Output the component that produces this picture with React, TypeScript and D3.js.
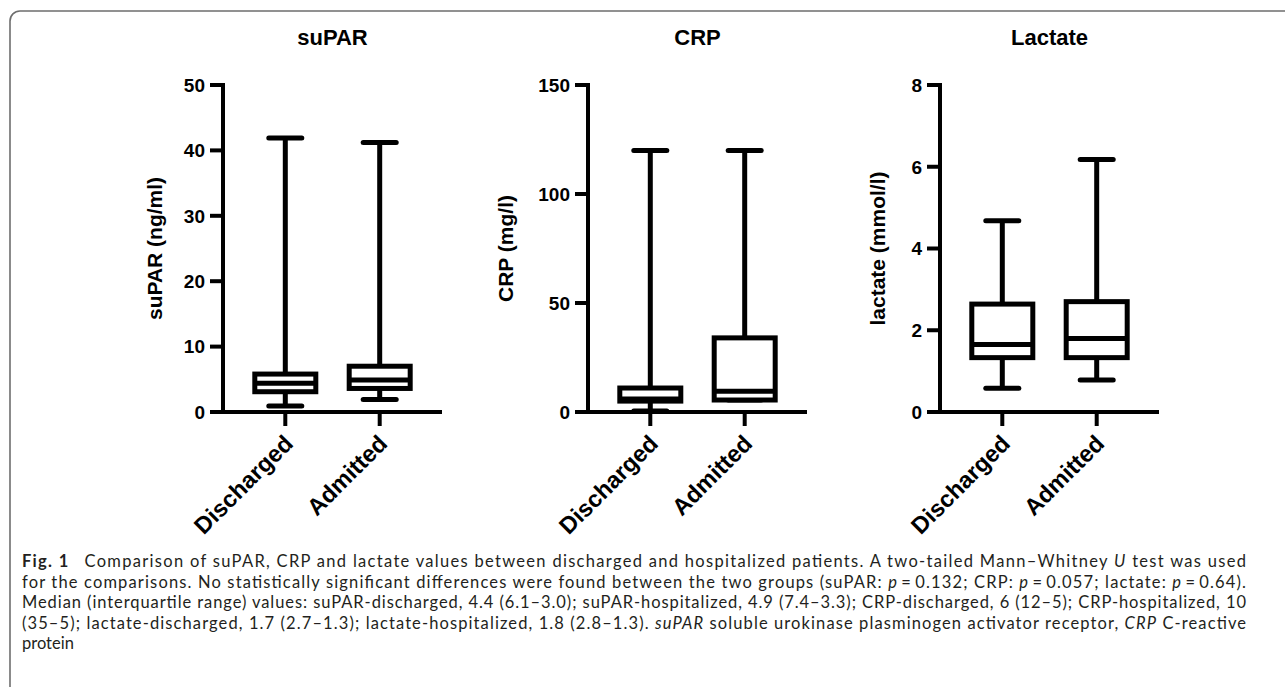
import React from 'react';
import * as d3 from 'd3';

// categories on every panel
const groups = ['Discharged', 'Admitted'];

// box stats per group: [min, q1, median, q3, max]
const suparStats = [[0.9, 3.1, 4.4, 5.8, 41.9], [1.9, 3.6, 4.9, 7.0, 41.2]];
const crpStats = [[0.5, 5, 6, 11, 120], [5.5, 5.5, 9.5, 34, 120]];
const lactateStats = [[0.58, 1.33, 1.65, 2.64, 4.68], [0.78, 1.33, 1.8, 2.7, 6.18]];

const suparTicks = [0, 10, 20, 30, 40, 50];
const crpTicks = [0, 50, 100, 150];
const lactateTicks = [0, 2, 4, 6, 8];

const panelTitles = ['suPAR', 'CRP', 'Lactate'];
const yTitles = ['suPAR (ng/ml)', 'CRP (mg/l)', 'lactate (mmol/l)'];

const captionLines = [
  [['b', 'Fig. 1'], ['n', '\u2002 Comparison of suPAR, CRP and lactate values between discharged and hospitalized patients. A two-tailed Mann\u2013Whitney '], ['i', 'U'], ['n', ' test was used']],
  [['n', 'for the comparisons. No statistically significant differences were found between the two groups (suPAR: '], ['i', 'p'], ['n', '\u2009=\u20090.132; CRP: '], ['i', 'p'], ['n', '\u2009=\u20090.057; lactate: '], ['i', 'p'], ['n', '\u2009=\u20090.64).']],
  [['n', 'Median (interquartile range) values: suPAR-discharged, 4.4 (6.1\u20133.0); suPAR-hospitalized, 4.9 (7.4\u20133.3); CRP-discharged, 6 (12\u20135); CRP-hospitalized, 10']],
  [['n', '(35\u20135); lactate-discharged, 1.7 (2.7\u20131.3); lactate-hospitalized, 1.8 (2.8\u20131.3). '], ['i', 'suPAR'], ['n', ' soluble urokinase plasminogen activator receptor, '], ['i', 'CRP'], ['n', ' C-reactive']],
  [['n', 'protein']],
];

const W = 1285;
const H = 687;
const top = 85;
const bottom = 412;
const plotW = 219;
const font = '"Liberation Sans", Arial, sans-serif';

function Panel({ axisX, stats, ticks, title, yTitle, yTitleDx }) {
  const x = d3.scalePoint().domain(groups).range([axisX, axisX + plotW]).padding(0.66);
  const y = d3.scaleLinear().domain([0, ticks[ticks.length - 1]]).range([bottom, top]);
  const boxW = 61;
  const capW = 33;
  const sw = 5;
  return (
    <g>
      <text x={axisX + plotW / 2} y={45} textAnchor="middle" fontFamily={font} fontWeight="bold" fontSize={22}>{title}</text>
      {/* y axis */}
      <line x1={axisX} x2={axisX} y1={bottom + 2} y2={top - 2} stroke="#000" strokeWidth={4} />
      {ticks.map(t => (
        <g key={t}>
          <line x1={axisX - 13} x2={axisX} y1={y(t)} y2={y(t)} stroke="#000" strokeWidth={4} />
          <text x={axisX - 18} y={y(t)} dy="0.36em" textAnchor="end" fontFamily={font} fontWeight="bold" fontSize={19}>{t}</text>
        </g>
      ))}
      <text transform={`translate(${axisX + yTitleDx},${(top + bottom) / 2}) rotate(-90)`} dy="0.35em" textAnchor="middle" fontFamily={font} fontWeight="bold" fontSize={21}>{yTitle}</text>
      {/* x axis */}
      <line x1={axisX - 2} x2={axisX + plotW} y1={bottom} y2={bottom} stroke="#000" strokeWidth={4} />
      {groups.map((g, i) => {
        const cx = x(g);
        const [mn, q1, md, q3, mx] = stats[i];
        return (
          <g key={g}>
            <line x1={cx} x2={cx} y1={bottom} y2={bottom + 14} stroke="#000" strokeWidth={4} />
            <text transform={`translate(${cx + 9},${bottom + 33}) rotate(-45)`} textAnchor="end" fontFamily={font} fontWeight="bold" fontSize={23.5}>{g}</text>
            <line x1={cx} x2={cx} y1={y(mx)} y2={y(mn)} stroke="#000" strokeWidth={sw} />
            <line x1={cx - capW / 2} x2={cx + capW / 2} y1={y(mx)} y2={y(mx)} stroke="#000" strokeWidth={sw} strokeLinecap="round" />
            <line x1={cx - capW / 2} x2={cx + capW / 2} y1={y(mn)} y2={y(mn)} stroke="#000" strokeWidth={sw} strokeLinecap="round" />
            <rect x={cx - boxW / 2} y={y(q3)} width={boxW} height={y(q1) - y(q3)} fill="#fff" stroke="#000" strokeWidth={sw} />
            <line x1={cx - boxW / 2} x2={cx + boxW / 2} y1={y(md)} y2={y(md)} stroke="#000" strokeWidth={sw} />
          </g>
        );
      })}
    </g>
  );
}

export default function App() {
  const panels = [
    { axisX: 223, stats: suparStats, ticks: suparTicks, yTitleDx: -68 },
    { axisX: 588, stats: crpStats, ticks: crpTicks, yTitleDx: -82 },
    { axisX: 940, stats: lactateStats, ticks: lactateTicks, yTitleDx: -62 },
  ];
  const capFont = 'Lato, "Open Sans", sans-serif';
  return (
    <div style={{ position: 'absolute', left: 0, top: 0 }}>
      <svg width={W} height={H} style={{ display: 'block', background: '#fff' }}>
        <rect x={10} y={11} width={1320} height={690} rx={10} fill="#fff" stroke="#6e6e6e" strokeWidth={1.6} />
        {panels.map((p, i) => (
          <Panel key={i} {...p} title={panelTitles[i]} yTitle={yTitles[i]} />
        ))}
        {captionLines.map((line, i) => (
          <text key={i} x={22} y={567 + i * 20.5} fontFamily={capFont} fontSize={16.5} fill="#231f20"
            textLength={i < 4 ? 1224 : undefined} lengthAdjust="spacing">
            {line.map(([k, s], j) => (
              <tspan key={j} fontWeight={k === 'b' ? 'bold' : 'normal'} fontStyle={k === 'i' ? 'italic' : 'normal'}>{s}</tspan>
            ))}
          </text>
        ))}
      </svg>
    </div>
  );
}
